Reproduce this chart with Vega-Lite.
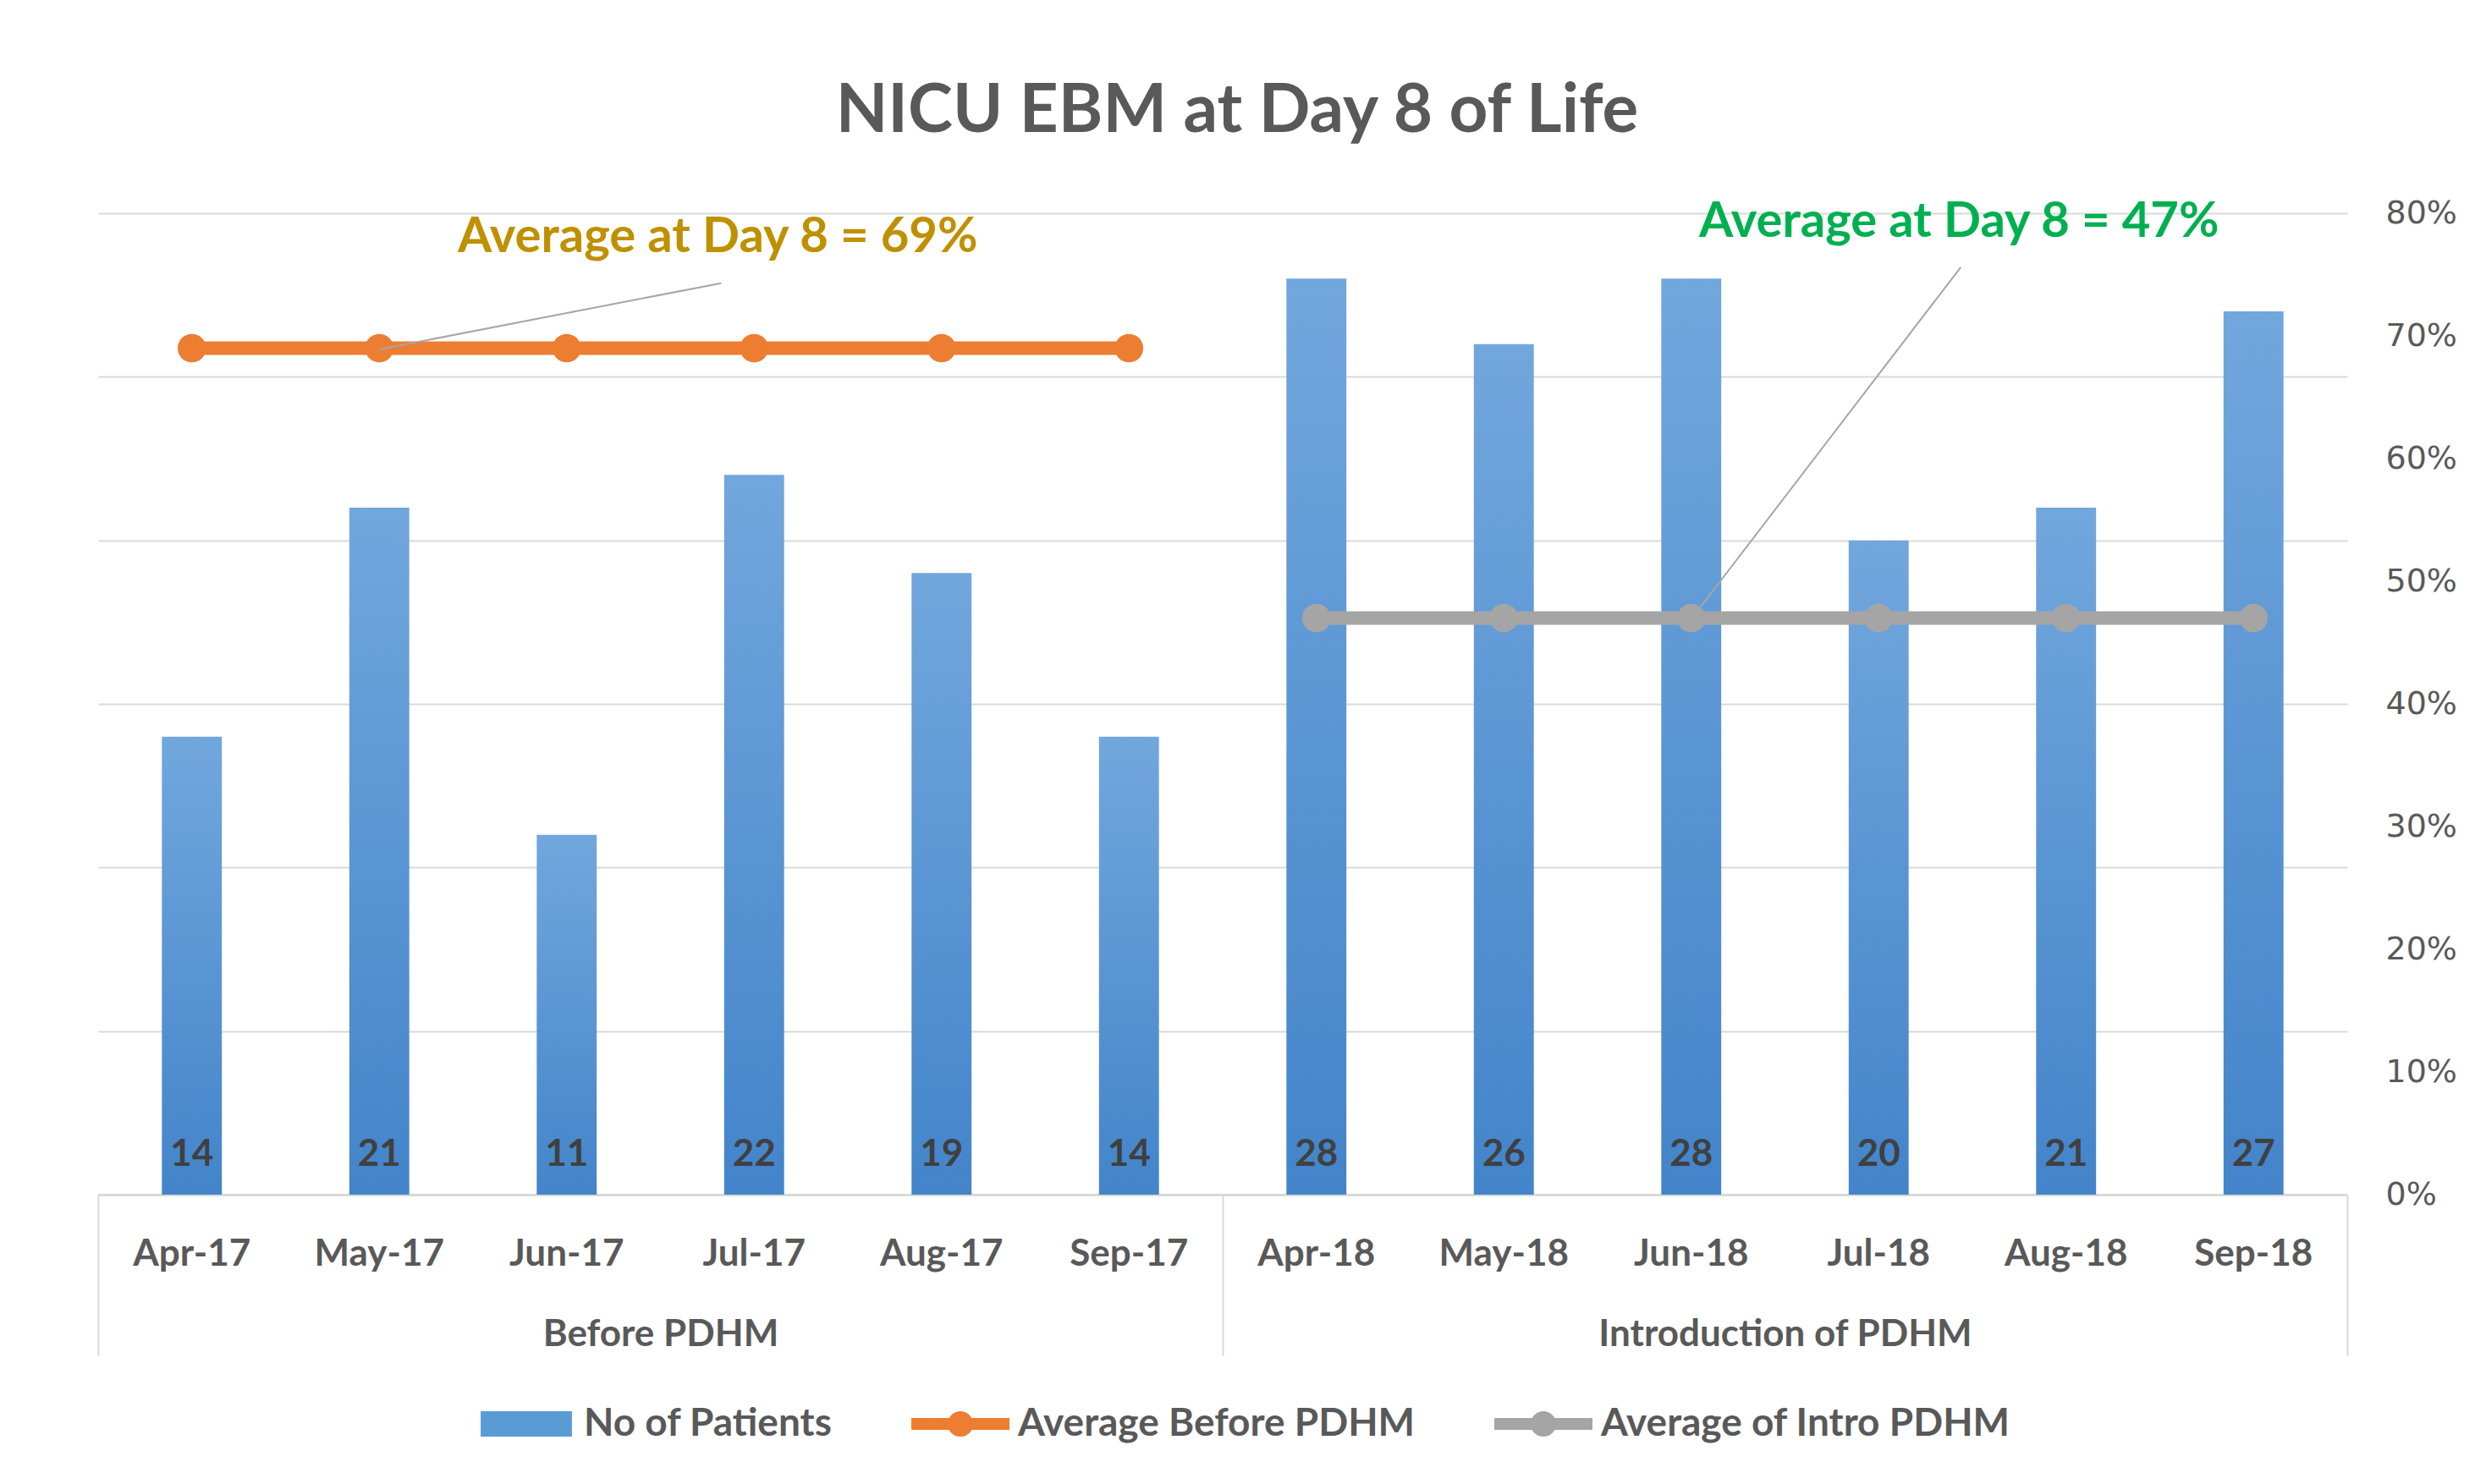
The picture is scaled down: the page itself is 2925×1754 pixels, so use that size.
{
  "$schema": "https://vega.github.io/schema/vega-lite/v6.json",
  "width": 2658,
  "height": 1160,
  "autosize": {"type": "none"},
  "padding": {"left": 116, "top": 252, "right": 151, "bottom": 342},
  "background": "white",
  "title": {
    "text": "NICU EBM at Day 8 of Life",
    "font": "Lato",
    "fontSize": 80,
    "fontWeight": "bold",
    "color": "#595959",
    "anchor": "middle",
    "frame": "group",
    "baseline": "alphabetic",
    "offset": -3,
    "dx": 17
  },
  "config": {"view": {"stroke": null}, "font": "Lato"},
  "datasets": {
    "main": [
      {"month": "Apr-17", "group": "Before PDHM", "patients": 14, "avg": 0.69},
      {"month": "May-17", "group": "Before PDHM", "patients": 21, "avg": 0.69},
      {"month": "Jun-17", "group": "Before PDHM", "patients": 11, "avg": 0.69},
      {"month": "Jul-17", "group": "Before PDHM", "patients": 22, "avg": 0.69},
      {"month": "Aug-17", "group": "Before PDHM", "patients": 19, "avg": 0.69},
      {"month": "Sep-17", "group": "Before PDHM", "patients": 14, "avg": 0.69},
      {"month": "Apr-18", "group": "Introduction of PDHM", "patients": 28, "avg": 0.47},
      {"month": "May-18", "group": "Introduction of PDHM", "patients": 26, "avg": 0.47},
      {"month": "Jun-18", "group": "Introduction of PDHM", "patients": 28, "avg": 0.47},
      {"month": "Jul-18", "group": "Introduction of PDHM", "patients": 20, "avg": 0.47},
      {"month": "Aug-18", "group": "Introduction of PDHM", "patients": 21, "avg": 0.47},
      {"month": "Sep-18", "group": "Introduction of PDHM", "patients": 27, "avg": 0.47}
    ],
    "legendrows": [
      {"series": "No of Patients"},
      {"series": "Average Before PDHM"},
      {"series": "Average of Intro PDHM"}
    ]
  },
  "layer": [
    {
      "data": {"name": "main"},
      "encoding": {
        "x": {
          "field": "month",
          "type": "nominal",
          "sort": null,
          "scale": {
            "type": "band",
            "domain": ["Apr-17", "May-17", "Jun-17", "Jul-17", "Aug-17", "Sep-17", "Apr-18", "May-18", "Jun-18", "Jul-18", "Aug-18", "Sep-18"],
            "paddingInner": 0.68,
            "paddingOuter": 0.34
          },
          "axis": {
            "orient": "bottom",
            "title": null,
            "ticks": false,
            "tickSize": 0,
            "domain": true,
            "domainColor": "#d9d9d9",
            "domainWidth": 3,
            "labelAngle": 0,
            "labelFont": "Lato",
            "labelFontWeight": "bold",
            "labelFontSize": 44,
            "labelColor": "#595959",
            "labelPadding": 48,
            "labelBaseline": "top"
          }
        }
      },
      "layer": [
        {
          "mark": {
            "type": "bar",
            "color": {
              "gradient": "linear",
              "x1": 0, "y1": 0, "x2": 0, "y2": 1,
              "stops": [
                {"offset": 0, "color": "#72A7DD"},
                {"offset": 1, "color": "#4384CA"}
              ]
            }
          },
          "encoding": {
            "y": {
              "field": "patients",
              "type": "quantitative",
              "scale": {"domain": [0, 30], "nice": false},
              "axis": {
                "orient": "left",
                "title": null,
                "labels": false,
                "ticks": false,
                "domain": false,
                "grid": true,
                "values": [0, 5, 10, 15, 20, 25, 30],
                "gridColor": "#d9d9d9",
                "gridWidth": 2
              }
            }
          }
        },
        {
          "mark": {
            "type": "text",
            "font": "Lato",
            "fontWeight": "bold",
            "fontSize": 44,
            "color": "#404040",
            "baseline": "middle",
            "dy": -47
          },
          "encoding": {
            "y": {"datum": 0, "type": "quantitative"},
            "text": {"field": "patients", "type": "quantitative"}
          }
        }
      ]
    },
    {
      "encoding": {
        "x": {
          "field": "month",
          "type": "nominal",
          "sort": null,
          "scale": {
            "type": "band",
            "domain": ["Apr-17", "May-17", "Jun-17", "Jul-17", "Aug-17", "Sep-17", "Apr-18", "May-18", "Jun-18", "Jul-18", "Aug-18", "Sep-18"],
            "paddingInner": 0.68,
            "paddingOuter": 0.34
          },
          "axis": null
        },
        "y": {
          "field": "avg",
          "type": "quantitative",
          "scale": {"domain": [0, 0.8], "nice": false},
          "axis": {
            "orient": "right",
            "title": null,
            "format": ".0%",
            "values": [0, 0.1, 0.2, 0.3, 0.4, 0.5, 0.6, 0.7, 0.8],
            "grid": false,
            "ticks": false,
            "domain": false,
            "labelAlign": "left",
            "labelPadding": 45,
            "labelFont": "DejaVu Sans",
            "labelFontSize": 38,
            "labelColor": "#595959"
          }
        }
      },
      "layer": [
        {
          "data": {"name": "main"},
          "transform": [{"filter": "datum.group == 'Before PDHM'"}],
          "mark": {
            "type": "line",
            "color": "#ED7D31",
            "strokeWidth": 16,
            "point": {"filled": true, "size": 1130, "color": "#ED7D31", "opacity": 1}
          }
        },
        {
          "data": {"name": "main"},
          "transform": [{"filter": "datum.group == 'Introduction of PDHM'"}],
          "mark": {
            "type": "line",
            "color": "#A5A5A5",
            "strokeWidth": 16,
            "point": {"filled": true, "size": 1130, "color": "#A5A5A5", "opacity": 1}
          }
        },
        {
          "data": {"values": [{"from": "May-17", "to": "Jul-17", "p1": 0.689, "p2": 0.743}]},
          "mark": {"type": "rule", "color": "#A6A6A6", "strokeWidth": 2, "x2Offset": -39},
          "encoding": {
            "x": {"field": "from", "type": "nominal"},
            "x2": {"field": "to"},
            "y": {"field": "p1", "type": "quantitative"},
            "y2": {"field": "p2"}
          }
        },
        {
          "data": {"values": [{"from": "Jun-18", "to": "Jul-18", "p1": 0.479, "p2": 0.756}]},
          "mark": {"type": "rule", "color": "#A6A6A6", "strokeWidth": 2, "xOffset": 11, "x2Offset": 97},
          "encoding": {
            "x": {"field": "from", "type": "nominal"},
            "x2": {"field": "to"},
            "y": {"field": "p1", "type": "quantitative"},
            "y2": {"field": "p2"}
          }
        },
        {
          "data": {"values": [{"month": "Jul-17", "avg": 0.768, "note": "Average at Day 8 = 69%"}]},
          "mark": {
            "type": "text",
            "font": "Lato",
            "fontWeight": "bold",
            "fontSize": 58,
            "color": "#BF9000",
            "baseline": "alphabetic",
            "align": "center",
            "dx": -43
          },
          "encoding": {"text": {"field": "note"}}
        },
        {
          "data": {"values": [{"month": "Jul-18", "avg": 0.781, "note": "Average at Day 8 = 47%"}]},
          "mark": {
            "type": "text",
            "font": "Lato",
            "fontWeight": "bold",
            "fontSize": 58,
            "color": "#00B050",
            "baseline": "alphabetic",
            "align": "center",
            "dx": 95
          },
          "encoding": {"text": {"field": "note"}}
        }
      ]
    },
    {
      "data": {"values": [{"group": "Before PDHM"}, {"group": "Introduction of PDHM"}]},
      "mark": {"type": "rule", "strokeOpacity": 0},
      "encoding": {
        "x": {
          "field": "group",
          "type": "nominal",
          "sort": null,
          "scale": {"type": "band", "domain": ["Before PDHM", "Introduction of PDHM"], "paddingInner": 0, "paddingOuter": 0},
          "axis": {
            "orient": "bottom",
            "title": null,
            "domain": false,
            "ticks": true,
            "tickBand": "extent",
            "tickSize": 190,
            "tickColor": "#d9d9d9",
            "tickWidth": 2,
            "labelAngle": 0,
            "labelPadding": -47,
            "labelBaseline": "top",
            "labelLimit": 0,
            "labelFont": "Lato",
            "labelFontWeight": "bold",
            "labelFontSize": 44,
            "labelColor": "#595959"
          }
        }
      }
    },
    {
      "data": {"name": "legendrows"},
      "transform": [{"filter": "false"}],
      "mark": {"type": "point", "filled": true, "opacity": 1},
      "encoding": {
        "color": {
          "field": "series",
          "type": "nominal",
          "scale": {
            "domain": ["No of Patients", "Average Before PDHM", "Average of Intro PDHM"],
            "range": ["#5B9BD5", "#ED7D31", "#A5A5A5"]
          },
          "legend": {
            "title": null,
            "orient": "none",
            "legendX": 448,
            "legendY": 1373,
            "direction": "horizontal",
            "symbolSize": 13456,
            "symbolStrokeWidth": 0,
            "symbolOpacity": 1,
            "labelFont": "Lato",
            "labelFontWeight": "bold",
            "labelFontSize": 46,
            "labelColor": "#595959",
            "labelOffset": 10,
            "columnPadding": 93,
            "padding": 0,
            "labelLimit": 0
          }
        },
        "shape": {
          "field": "series",
          "type": "nominal",
          "scale": {
            "domain": ["No of Patients", "Average Before PDHM", "Average of Intro PDHM"],
            "range": [
              "M-0.93,-0.26L0.93,-0.26L0.93,0.26L-0.93,0.26Z",
              "M-1,-0.12L1,-0.12L1,0.12L-1,0.12Z M0.26,0A0.26,0.26 0 1,1 -0.26,0A0.26,0.26 0 1,1 0.26,0Z",
              "M-1,-0.12L1,-0.12L1,0.12L-1,0.12Z M0.26,0A0.26,0.26 0 1,1 -0.26,0A0.26,0.26 0 1,1 0.26,0Z"
            ]
          },
          "legend": {
            "title": null,
            "orient": "none",
            "legendX": 448,
            "legendY": 1373,
            "direction": "horizontal",
            "symbolSize": 13456,
            "symbolStrokeWidth": 0,
            "symbolOpacity": 1,
            "labelFont": "Lato",
            "labelFontWeight": "bold",
            "labelFontSize": 46,
            "labelColor": "#595959",
            "labelOffset": 10,
            "columnPadding": 93,
            "padding": 0,
            "labelLimit": 0
          }
        }
      }
    }
  ],
  "resolve": {"scale": {"x": "independent", "y": "independent"}}
}
